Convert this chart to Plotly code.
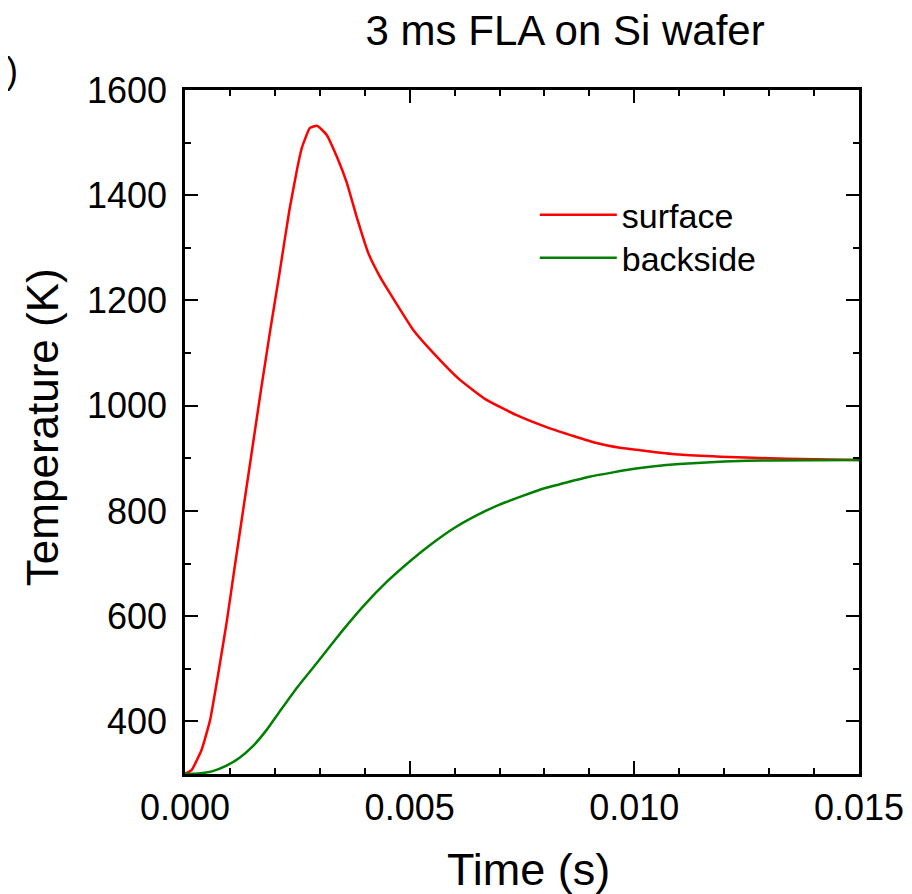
import plotly.graph_objects as go

# Surface temperature (time in s, temperature in K)
t_surface = [0, 0.00015, 0.00037, 0.00056, 0.00074, 0.00093, 0.00110, 0.00130, 0.00150,
             0.00170, 0.00190, 0.00210, 0.00232, 0.00250, 0.00260, 0.00278, 0.00294, 0.00315,
             0.00338, 0.00360, 0.00382, 0.00408, 0.00434, 0.00456, 0.00508, 0.00553,
             0.00612, 0.00671, 0.00738, 0.00812, 0.00916, 0.00968, 0.01035, 0.01100,
             0.01191, 0.01339, 0.01500]
T_surface = [300, 308, 346, 403, 491, 590, 690, 805, 920,
             1035, 1145, 1250, 1370, 1452, 1490, 1528, 1532, 1515,
             1473, 1424, 1359, 1290, 1245, 1214, 1144, 1100,
             1049, 1011, 982, 957, 929, 920, 913, 907,
             903, 899, 897]

# Backside temperature
t_backside = [0, 0.0003, 0.0006, 0.0009, 0.0012, 0.0015, 0.0018, 0.0021, 0.0025, 0.0030,
              0.0035, 0.0040, 0.0045, 0.0050, 0.0055, 0.0060, 0.0065, 0.0070, 0.0075,
              0.0080, 0.0090, 0.0100, 0.0110, 0.0120, 0.0130, 0.0150]
T_backside = [300, 301, 305, 315, 330, 352, 382, 418, 465, 518,
              572, 622, 666, 704, 738, 768, 792, 812, 828,
              843, 865, 880, 889, 894, 896, 897]

x_ticks = [0.0, 0.005, 0.010, 0.015]
x_ticklabels = ["0.000", "0.005", "0.010", "0.015"]
y_ticks = [400, 600, 800, 1000, 1200, 1400, 1600]

FONT = "Arial, Liberation Sans, sans-serif"

fig = go.Figure()
fig.add_trace(go.Scatter(x=t_surface, y=T_surface, mode="lines", name="surface", legend="legend",
                         line=dict(color="#ff0000", width=2.5, shape="spline", smoothing=0.4)))
fig.add_trace(go.Scatter(x=t_backside, y=T_backside, mode="lines", name="backside", legend="legend2",
                         line=dict(color="#008000", width=2.5, shape="spline", smoothing=0.4)))

axis_common = dict(showgrid=False, zeroline=False, showline=True, linecolor="black",
                   linewidth=2.5, mirror="ticks", ticks="inside", ticklen=13, tickwidth=2,
                   tickcolor="black", automargin=False,
                   tickfont=dict(family=FONT, size=36, color="black"))

fig.update_xaxes(range=[0, 0.015], tickvals=x_ticks, ticktext=x_ticklabels,
                 minor=dict(dtick=0.001, ticks="inside", ticklen=6, tickwidth=2, tickcolor="black"),
                 **axis_common)
fig.update_yaxes(range=[300, 1600], tickvals=y_ticks,
                 minor=dict(dtick=100, tick0=0, ticks="inside", ticklen=6, tickwidth=2, tickcolor="black"),
                 ticklabelstandoff=8,
                 **axis_common)

legend_common = dict(xanchor="left", yanchor="middle", itemwidth=77,
                     font=dict(family=FONT, size=34, color="black"), bgcolor="rgba(0,0,0,0)")

fig.update_layout(
    width=904, height=886,
    margin=dict(l=177, r=53, t=82, b=120),
    paper_bgcolor="white", plot_bgcolor="white",
    title=dict(text="3 ms FLA on Si wafer", x=0.564, xref="paper", xanchor="center",
               y=0.975, yref="container", yanchor="middle",
               font=dict(family=FONT, size=42, color="black")),
    showlegend=True,
    legend=dict(x=0.519, y=0.817, **legend_common),
    legend2=dict(x=0.519, y=0.754, **legend_common),
    annotations=[
        dict(text="(a)", x=-0.2447, xref="paper", y=1.028, yref="paper",
             xanchor="right", yanchor="middle", showarrow=False,
             font=dict(family=FONT, size=36, color="black")),
        dict(text="Temperature (K)", x=-0.2122, xref="paper", y=0.507, yref="paper",
             xanchor="center", yanchor="middle", textangle=-90, showarrow=False,
             font=dict(family=FONT, size=44, color="black")),
        dict(text="Time (s)", x=0.510, xref="paper", y=-0.139, yref="paper",
             xanchor="center", yanchor="middle", showarrow=False,
             font=dict(family=FONT, size=45, color="black")),
    ],
)

fig.write_html("out.html")
